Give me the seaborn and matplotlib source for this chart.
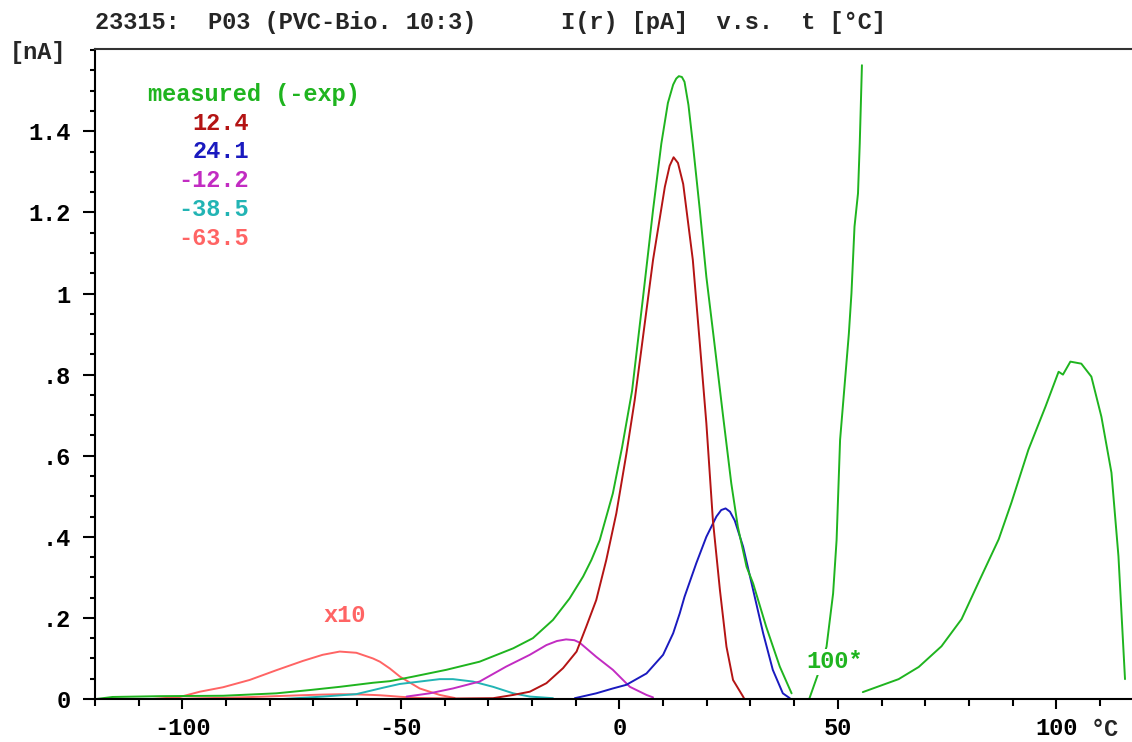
import numpy as np
import pandas as pd
import matplotlib
matplotlib.use("Agg")
import matplotlib.pyplot as plt
from matplotlib.ticker import MultipleLocator
import seaborn as sns

# ---- data: temperature [°C] and current [nA] ----
meas_t = [-119.7, -116, -105, -90.7, -78.5, -70.9, -64, -56.4, -52.5, -47.3, -39.6, -32,
          -24.3, -19.8, -15.2, -11.4, -8.3, -6.4, -4.5, -1.5, 0.6, 2.9, 5.4, 7.7, 9.6,
          11.1, 12.3, 13.0, 13.6, 14.3, 14.9, 15.8, 16.8, 18.4, 19.9, 21.6, 23.7, 25.6,
          27.1, 29.1, 30.6, 33.6, 36.7, 39.4]
meas_i = [0.0, 0.005, 0.007, 0.008, 0.014, 0.022, 0.030, 0.040, 0.044, 0.055, 0.072, 0.092,
          0.125, 0.150, 0.195, 0.248, 0.302, 0.343, 0.392, 0.507, 0.620, 0.760, 0.990, 1.206,
          1.370, 1.470, 1.515, 1.530, 1.536, 1.534, 1.522, 1.465, 1.370, 1.206, 1.041, 0.890,
          0.700, 0.532, 0.425, 0.326, 0.285, 0.178, 0.080, 0.014]

# measured x100 (two segments)
hund_a_t = [43.5, 45.4, 47.4, 48.9, 49.7, 50.5, 52.5, 53.1, 53.8, 54.6, 55.0, 55.5]
hund_a_i = [0.002, 0.060, 0.129, 0.260, 0.392, 0.639, 0.900, 1.000, 1.165, 1.247, 1.370, 1.563]
hund_b_t = [55.7, 63.9, 68.5, 73.7, 78.3, 82.2, 86.8, 89.7, 93.6, 97.5, 100.5, 101.5,
            103.2, 105.7, 108.0, 110.3, 112.6, 114.2, 115.7]
hund_b_i = [0.017, 0.049, 0.079, 0.130, 0.197, 0.288, 0.394, 0.484, 0.615, 0.721, 0.807, 0.800,
            0.832, 0.827, 0.795, 0.696, 0.558, 0.352, 0.049]

# fitted relaxation peaks
red_t = [-110, -50, -28.9, -24.3, -20.5, -16.7, -12.9, -9.8, -7.6, -5.3, -3.0, -0.7, 1.6, 3.5,
         5.0, 7.7, 10.4, 11.5, 12.4, 13.4, 14.6, 16.8, 18.4, 19.9, 21.4, 23.0, 24.5, 26.0,
         28.3, 28.6]
red_i = [0.0, 0.0, 0.002, 0.010, 0.018, 0.039, 0.076, 0.117, 0.178, 0.244, 0.343, 0.458, 0.605,
         0.737, 0.860, 1.083, 1.263, 1.315, 1.336, 1.322, 1.270, 1.083, 0.877, 0.680, 0.440,
         0.269, 0.129, 0.047, 0.006, 0.0]

blue_t = [-10.2, -5.3, -1.5, 1.6, 6.2, 10.0, 12.3, 13.8, 14.9, 17.6, 19.9, 22.2, 23.3, 24.3,
          25.3, 26.4, 28.3, 30.6, 32.9, 35.1, 37.4, 39.0]
blue_i = [0.002, 0.014, 0.026, 0.035, 0.063, 0.109, 0.162, 0.211, 0.252, 0.335, 0.400, 0.450,
          0.466, 0.470, 0.462, 0.440, 0.376, 0.269, 0.162, 0.072, 0.014, 0.002]

mag_t = [-48.7, -43.4, -38.1, -32.0, -25.9, -20.5, -16.7, -14.3, -12.2, -10.3, -9.1, -5.3,
         -1.5, 2.4, 6.2, 7.7]
mag_i = [0.006, 0.014, 0.026, 0.043, 0.080, 0.109, 0.133, 0.143, 0.147, 0.145, 0.139, 0.104,
         0.072, 0.030, 0.010, 0.004]

cyan_t = [-77, -67.8, -60.2, -54.0, -50.3, -45.7, -41.1, -38.1, -33.5, -28.9, -24.3, -20.5, -15.2]
cyan_i = [0.0, 0.006, 0.012, 0.028, 0.037, 0.043, 0.049, 0.049, 0.043, 0.030, 0.014, 0.006, 0.002]

# lowest peak, shown magnified x10
pink_t = [-107, -100.6, -96, -90.7, -84.6, -78.5, -72.4, -67.9, -64.0, -60.2, -56.4, -54.8,
          -52.5, -50.2, -45.7, -41.1, -37.7]
pink_x10 = [0.0, 0.005, 0.018, 0.029, 0.047, 0.071, 0.094, 0.109, 0.117, 0.114, 0.100, 0.092,
            0.075, 0.055, 0.026, 0.010, 0.0025]

peak_labels = ["12.4", "24.1", "-12.2", "-38.5", "-63.5"]
x_ticks = [-100, -50, 0, 50, 100]
x_ticklabels = ["-100", "-50", "0", "50", "100"]
y_ticks = [0, 0.2, 0.4, 0.6, 0.8, 1.0, 1.2, 1.4]
y_ticklabels = ["0", ".2", ".4", ".6", ".8", "1", "1.2", "1.4"]

title = "23315:  P03 (PVC-Bio. 10:3)      I(r) [pA]  v.s.  t [°C]"

# ---- style ----
sns.set_style("white")
plt.rcParams["font.family"] = ["Liberation Mono", "DejaVu Sans Mono"]
plt.rcParams["font.weight"] = "bold"
plt.rcParams["axes.unicode_minus"] = False

GREEN = "#1fb41f"
RED = "#b41414"
BLUE = "#1a1abf"
MAGENTA = "#c22cc2"
CYAN = "#22b4b4"
PINK = "#ff6464"
FS = 17
LW = 1.4

W, H = 1132, 742
fig = plt.figure(figsize=(W / 100, H / 100), dpi=100)
ax = fig.add_axes([95 / W, 43 / H, (W - 95) / W, 650 / H])


def draw(t, i, color):
    df = pd.DataFrame({"t": t, "i": i})
    sns.lineplot(data=df, x="t", y="i", color=color, lw=LW, sort=False,
                 estimator=None, ax=ax, legend=False)


draw(pink_t, np.array(pink_x10) / 10, PINK)
draw(pink_t, pink_x10, PINK)
draw(cyan_t, cyan_i, CYAN)
draw(mag_t, mag_i, MAGENTA)
draw(blue_t, blue_i, BLUE)
draw(red_t, red_i, RED)
draw(meas_t, meas_i, GREEN)
draw(hund_a_t, hund_a_i, GREEN)
draw(hund_b_t, hund_b_i, GREEN)

ax.set_xlim(-120, 117.3)
ax.set_ylim(0, 1.603)
ax.set_xlabel("")
ax.set_ylabel("")

ax.set_xticks(x_ticks)
ax.set_xticklabels(x_ticklabels)
ax.set_yticks(y_ticks)
ax.set_yticklabels(y_ticklabels)
ax.xaxis.set_minor_locator(MultipleLocator(10))
ax.yaxis.set_minor_locator(MultipleLocator(0.05))
ax.tick_params(axis="both", which="both", direction="out", colors="black",
               labelsize=FS, width=1.5)
ax.tick_params(axis="x", which="major", length=7.2, pad=6, bottom=True)
ax.tick_params(axis="x", which="minor", length=5, bottom=True)
ax.tick_params(axis="y", which="major", length=8.6, pad=9, left=True)
ax.tick_params(axis="y", which="minor", length=3.6, left=True)
for lab in ax.get_xticklabels() + ax.get_yticklabels():
    lab.set_fontweight("bold")

for side in ["left", "bottom", "top"]:
    ax.spines[side].set_visible(True)
    ax.spines[side].set_color("black")
    ax.spines[side].set_linewidth(1.5)
ax.spines["top"].set_color("#333333")
ax.spines["right"].set_visible(False)

# peak list in the upper left corner
fig.text(148 / W, 1 - 95 / H, "measured (-exp)", color=GREEN, fontsize=FS,
         ha="left", va="center", fontweight="bold")
label_colors = [RED, BLUE, MAGENTA, CYAN, PINK]
label_rows = [123.5, 152, 180.5, 209.5, 238.5]
for txt, col, yy in zip(peak_labels, label_colors, label_rows):
    fig.text(249 / W, 1 - yy / H, txt, color=col, fontsize=FS, ha="right",
             va="center", fontweight="bold")

ax.annotate("x10", xy=(345 / W, 1 - 615 / H), xycoords="figure fraction",
            color=PINK, fontsize=FS, ha="center", va="center", fontweight="bold")
ax.annotate("100*", xy=(835 / W, 1 - 662 / H), xycoords="figure fraction",
            color=GREEN, fontsize=FS, ha="center", va="center", fontweight="bold",
            bbox=dict(boxstyle="square,pad=0.05", fc="white", ec="none"))

fig.text(95 / W, 1 - 22 / H, title, fontsize=FS, ha="left", va="center",
         fontweight="bold")
fig.text(38 / W, 1 - 52 / H, "[nA]", fontsize=FS, ha="center", va="center",
         fontweight="bold")
fig.text(1105 / W, 1 - 729 / H, "°C", fontsize=FS, ha="center", va="center",
         fontweight="bold")

fig.savefig("out.png", dpi=100, facecolor="white")
